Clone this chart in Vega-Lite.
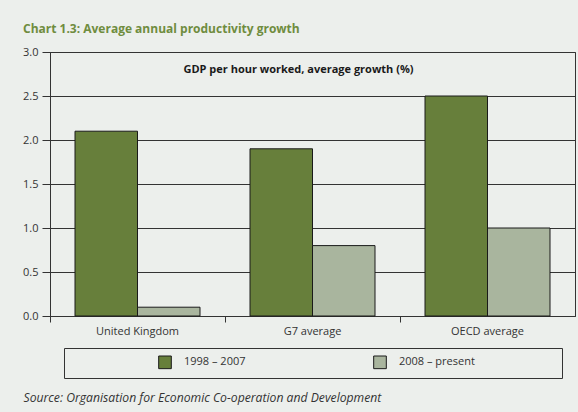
{
  "$schema": "https://vega.github.io/schema/vega-lite/v6.json",
  "width": 525,
  "height": 264,
  "autosize": {"type": "none"},
  "padding": {"left": 50, "top": 52, "right": 3, "bottom": 96},
  "background": "#ecefec",
  "title": {
    "text": "Chart 1.3: Average annual productivity growth",
    "anchor": "start",
    "frame": "group",
    "dx": -27,
    "offset": 10,
    "font": "Open Sans",
    "fontSize": 12,
    "fontWeight": "bold",
    "color": "#6f8c3e"
  },
  "config": {
    "view": {"stroke": "#333333", "strokeWidth": 1},
    "font": "Open Sans"
  },
  "layer": [
    {
      "data": {
        "values": [
          {"country": "United Kingdom", "period": "1998 – 2007", "value": 2.1},
          {"country": "United Kingdom", "period": "2008 – present", "value": 0.1},
          {"country": "G7 average", "period": "1998 – 2007", "value": 1.9},
          {"country": "G7 average", "period": "2008 – present", "value": 0.8},
          {"country": "OECD average", "period": "1998 – 2007", "value": 2.5},
          {"country": "OECD average", "period": "2008 – present", "value": 1.0}
        ]
      },
      "mark": {"type": "bar", "stroke": "#1a1a1a", "strokeWidth": 1, "opacity": 1},
      "encoding": {
        "x": {
          "field": "country",
          "type": "nominal",
          "sort": null,
          "scale": {"paddingInner": 0, "paddingOuter": 0},
          "axis": {
            "title": "Source:  Organisation for Economic Co-operation and Development",
            "titleX": -27,
            "titleY": 81,
            "titleAlign": "left",
            "titleBaseline": "middle",
            "titleAngle": 0,
            "titleFont": "Open Sans",
            "titleFontSize": 12.2,
            "titleFontStyle": "italic",
            "titleFontWeight": "normal",
            "titleColor": "#333333",
            "labelAngle": 0,
            "labelFontSize": 11,
            "labelColor": "#333333",
            "labelPadding": 3,
            "bandPosition": 0,
            "tickSize": 6,
            "tickColor": "#333333",
            "domainColor": "#333333",
            "grid": false
          }
        },
        "xOffset": {
          "field": "period",
          "type": "nominal",
          "scale": {"paddingInner": 0, "paddingOuter": 0.4}
        },
        "y": {
          "field": "value",
          "type": "quantitative",
          "scale": {"domain": [0, 3]},
          "axis": {
            "title": null,
            "values": [0, 0.5, 1, 1.5, 2, 2.5, 3],
            "format": ".1f",
            "grid": true,
            "gridColor": "#333333",
            "gridWidth": 1,
            "tickSize": 8,
            "tickColor": "#333333",
            "domainColor": "#333333",
            "labelFontSize": 11,
            "labelColor": "#333333",
            "labelPadding": 4
          }
        },
        "color": {
          "field": "period",
          "type": "nominal",
          "scale": {"range": ["#677f3b", "#a9b59e"]},
          "legend": {
            "orient": "none",
            "legendX": 14,
            "legendY": 296,
            "direction": "horizontal",
            "title": "\u200b\u2003\u2003\u2003\u2003\u2003\u2003\u2003\u2003\u200b",
            "titleOrient": "left",
            "titleFont": "DejaVu Sans",
            "titleFontSize": 9.5,
            "titlePadding": 11,
            "padding": 7,
            "strokeColor": "#333333",
            "symbolType": "square",
            "symbolSize": 160,
            "symbolStrokeColor": "#1a1a1a",
            "symbolStrokeWidth": 1,
            "symbolOpacity": 1,
            "labelOffset": 12,
            "labelFontSize": 11,
            "labelColor": "#333333",
            "labelLimit": 400,
            "columnPadding": 125,
            "labelExpr": "datum.label == '2008 – present' ? datum.label + '\u2003\u2003\u2003\u2003\u2003\u2003\u2003\u00a0\u200b' : datum.label"
          }
        }
      }
    },
    {
      "data": {"values": [{"label": "GDP per hour worked, average growth (%)"}]},
      "mark": {"type": "text", "fontWeight": "bold", "fontSize": 11, "color": "#1a1a1a", "dx": -14, "baseline": "middle"},
      "encoding": {
        "x": {"datum": "G7 average"},
        "y": {"datum": 2.8},
        "text": {"field": "label"}
      }
    }
  ]
}
